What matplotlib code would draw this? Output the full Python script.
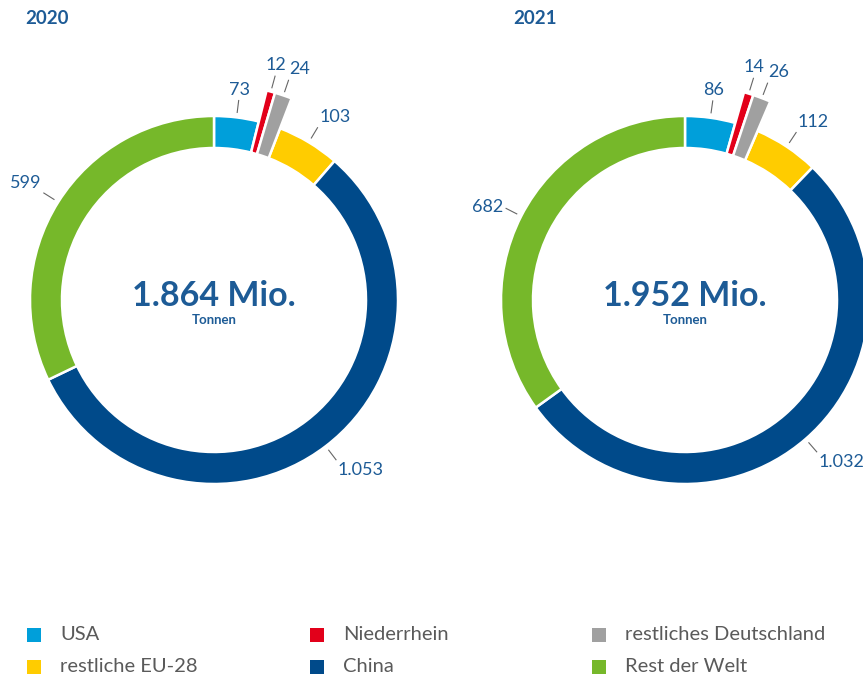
import numpy as np
import matplotlib
matplotlib.use("Agg")
import matplotlib.pyplot as plt
from matplotlib.patches import Rectangle

# data
years = ["2020", "2021"]
totals = ["1.864 Mio.", "1.952 Mio."]
categories = ["USA", "Niederrhein", "restliches Deutschland",
              "restliche EU-28", "China", "Rest der Welt"]
values_2020 = [73, 12, 24, 103, 1053, 599]
values_2021 = [86, 14, 26, 112, 1032, 682]
value_labels_2020 = ["73", "12", "24", "103", "1.053", "599"]
value_labels_2021 = ["86", "14", "26", "112", "1.032", "682"]
exploded = [False, True, True, False, False, False]
colors = ["#009fda", "#e2001a", "#a0a0a0", "#ffcc00", "#004a8a", "#76b82a"]

BLUE = "#1d5b96"
GREY_TXT = "#5a5a5a"
W, H = 863, 681

plt.rcParams['font.family'] = ['Lato', 'DejaVu Sans']

fig = plt.figure(figsize=(W / 100, H / 100), dpi=100)
ax = fig.add_axes([0, 0, 1, 1])


def donut(vals, labels, cx, cy_pix, title, total, title_x):
    cy = H - cy_pix
    R, width = 184, 32
    wedges, _ = ax.pie(vals, colors=colors, startangle=90, counterclock=False,
                       center=(cx, cy), radius=R,
                       wedgeprops=dict(width=width, edgecolor="white", linewidth=1.8))
    for w, ex in zip(wedges, exploded):
        if ex:
            w.set_radius(R + 32)
            w.set_width(width + 32)
            w.set_zorder(3)

    cum = np.cumsum([0] + vals[:-1])
    tot = sum(vals)
    for v, c, lab, ex in zip(vals, cum, labels, exploded):
        ang = np.deg2rad((c + v / 2) / tot * 360)
        s, co = np.sin(ang), np.cos(ang)
        r0 = (R + 36) if ex else (R + 5)
        r1 = r0 + 12
        rt = r1 + 3
        ax.plot([cx + r0 * s, cx + r1 * s], [cy + r0 * co, cy + r1 * co],
                color="#666666", lw=0.8)
        ha = "left" if s > 0.3 else ("right" if s < -0.3 else "center")
        va = "bottom" if co > 0.5 else ("top" if co < -0.5 else "center")
        ax.text(cx + rt * s, cy + rt * co, lab, ha=ha, va=va, color=BLUE,
                fontsize=13)

    ax.text(cx, cy + 4, total, ha="center", va="center", color=BLUE,
            fontsize=24.5, fontweight="bold")
    ax.text(cx, cy - 20, "Tonnen", ha="center", va="center", color=BLUE,
            fontsize=9.5, fontweight="bold")
    ax.text(title_x, H - 18, title, ha="left", va="center", color=BLUE,
            fontsize=13.5, fontweight="bold")


donut(values_2020, value_labels_2020, 214, 300, years[0], totals[0], 25)
donut(values_2021, value_labels_2021, 685, 300, years[1], totals[1], 513)

# legend
leg_x = [27, 310, 592]
leg_y = [635, 667]
for i, (name, col) in enumerate(zip(categories, colors)):
    lx = leg_x[i % 3]
    ly = H - leg_y[i // 3]
    ax.add_patch(Rectangle((lx, ly - 7), 14, 14, color=col, lw=0))
    ax.text(lx + 33, ly, name, ha="left", va="center", color=GREY_TXT,
            fontsize=14.5)

ax.set_xlim(0, W)
ax.set_ylim(0, H)
ax.set_aspect("equal")
ax.axis("off")

fig.savefig("out.png", dpi=100)
